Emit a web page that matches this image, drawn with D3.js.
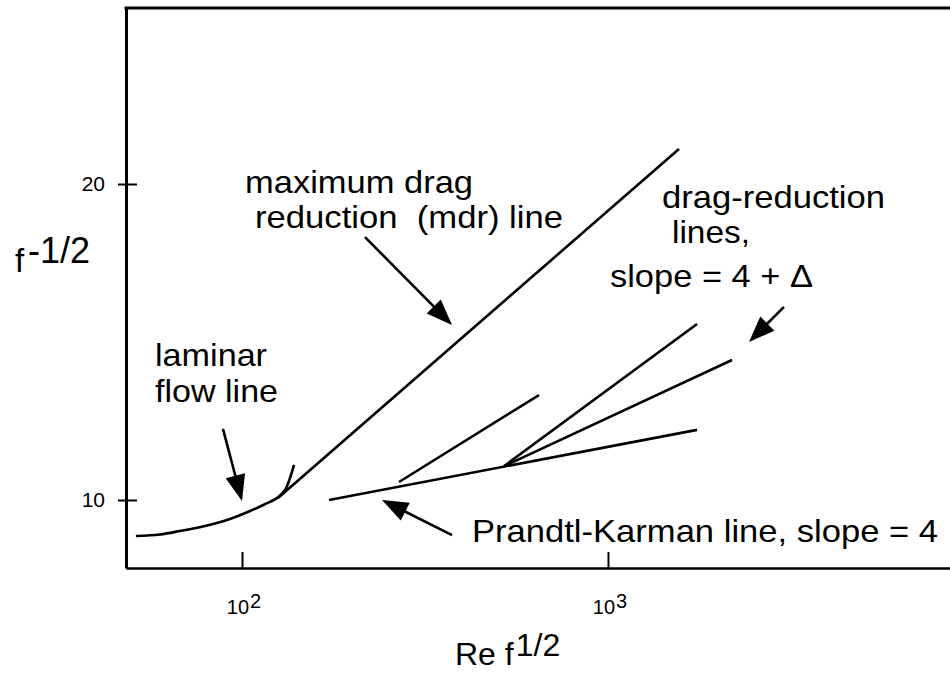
<!DOCTYPE html>
<html>
<head>
<meta charset="utf-8">
<script src="https://cdn.jsdelivr.net/npm/d3@7"></script>
<style>
  html, body { margin: 0; padding: 0; background: #fff; }
  svg { display: block; }
  text { font-family: "Liberation Sans", Arial, Helvetica, sans-serif; fill: #000; white-space: pre; }
</style>
</head>
<body>
<svg id="chart" width="950" height="675"></svg>
<script>
// Abscissa: Re f^(1/2) (log scale); ordinate: f^(-1/2) (linear scale)

// Laminar flow line (continues a little past the mdr junction)
const laminarRe = [51.3, 59.7, 67.7, 79.2, 92.7, 105.2, 115.6, 124.6, 131.1, 135.3, 138.7];
const laminarF  = [8.86, 8.91, 9.02, 9.18, 9.40, 9.65, 9.87, 10.06, 10.32, 10.70, 11.11];

// Maximum drag reduction asymptote
const mdrRe = [125.4, 1563];
const mdrF  = [10.06, 21.11];

// Prandtl-Karman (Newtonian turbulent) line
const pkRe = [172.9, 1751];
const pkF  = [10.0, 12.22];

// Drag-reduction lines, slope = 4 + delta
const drARe = [268.5, 647.8];
const drAF  = [10.57, 13.32];
const drBRe = [519.8, 1751];
const drBF  = [11.07, 15.57];
const drCRe = [519.8, 2182];
const drCF  = [11.07, 14.43];

// Axis ticks
const xTicks = [100, 1000];
const xTickExponents = ["2", "3"];
const yTicks = [10, 20];

// Annotation arrows: tail and tip, in data units
const arrowTailRe = [88.7, 216.8, 374.8, 3026];
const arrowTailF  = [12.25, 18.32, 8.89, 16.11];
const arrowTipRe  = [100, 374.8, 241.3, 2428];
const arrowTipF   = [9.97, 15.54, 10.0, 15.0];

// Annotation text
const labelLines = [
  "maximum drag",
  "reduction  (mdr) line",
  "drag-reduction",
  "lines,",
  "slope = 4 + \u0394",
  "laminar",
  "flow line",
  "Prandtl-Karman line, slope = 4"
];

const frameLeft = 126, frameRight = 950, frameTop = 8, frameBottom = 568;

const svg = d3.select("#chart");

const x = d3.scaleLog().domain([48.2, 8600]).range([frameLeft, frameRight]);
const y = d3.scaleLinear().domain([7.848, 25.57]).range([frameBottom, frameTop]);

// Frame: left and bottom axes plus a top rule (open on the right)
const yAxis = svg.append("g")
  .attr("transform", `translate(${frameLeft},0)`)
  .call(d3.axisLeft(y).tickValues(yTicks).tickSize(8).tickSizeOuter(0).tickPadding(13));
yAxis.select(".domain").attr("stroke", "#000").attr("stroke-width", 3);
yAxis.selectAll(".tick line").attr("x1", 11).attr("x2", -8).attr("stroke", "#000").attr("stroke-width", 2);
yAxis.selectAll(".tick text")
  .style("font-family", '"Liberation Sans", Arial, sans-serif')
  .style("font-size", "21px").attr("fill", "#000");

const xAxis = svg.append("g")
  .attr("transform", `translate(0,${frameBottom})`)
  .call(d3.axisBottom(x).tickValues(xTicks).tickSize(-16).tickSizeOuter(0).tickFormat(""));
xAxis.select(".domain").attr("stroke", "#000").attr("stroke-width", 2.6);
xAxis.selectAll(".tick line").attr("stroke", "#000").attr("stroke-width", 2);

svg.append("line")
  .attr("x1", frameLeft - 1.5).attr("x2", frameRight)
  .attr("y1", frameTop).attr("y2", frameTop)
  .attr("stroke", "#000").attr("stroke-width", 3);

// Power-of-ten tick labels
xTicks.forEach((v, i) => {
  const t = svg.append("text")
    .attr("x", x(v) + 2).attr("y", frameBottom + 46)
    .attr("text-anchor", "middle")
    .style("font-size", "20px");
  t.append("tspan").text("10");
  t.append("tspan").attr("dy", -6).attr("dx", 1).text(xTickExponents[i]);
});

// Axis titles
const xt = svg.append("text").attr("x", 455).attr("y", 665).style("font-size", "32px");
xt.append("tspan").text("Re f");
xt.append("tspan").attr("dx", 2).attr("dy", -9).text("1/2");

const yt = svg.append("text").attr("x", 15).attr("y", 272).style("font-size", "33px");
yt.append("tspan").text("f");
yt.append("tspan").attr("x", 28).attr("dy", -9).style("font-size", "36px").text("-1/2");

// Curves
const line = d3.line().x(d => x(d[0])).y(d => y(d[1]));
const smooth = d3.line().x(d => x(d[0])).y(d => y(d[1])).curve(d3.curveCatmullRom.alpha(0.5));

const plot = svg.append("g")
  .attr("fill", "none").attr("stroke", "#000")
  .attr("stroke-width", 2.6).attr("stroke-linecap", "butt");

plot.append("path").attr("d", smooth(d3.zip(laminarRe, laminarF)));
[[mdrRe, mdrF], [pkRe, pkF], [drARe, drAF], [drBRe, drBF], [drCRe, drCF]]
  .forEach(([re, f]) => plot.append("path").attr("d", line(d3.zip(re, f))));

// Arrows
const headLen = 26, headHalf = 10;
const arrows = svg.append("g");
arrowTailRe.forEach((_, i) => {
  const x0 = x(arrowTailRe[i]), y0 = y(arrowTailF[i]);
  const x1 = x(arrowTipRe[i]),  y1 = y(arrowTipF[i]);
  const len = Math.hypot(x1 - x0, y1 - y0);
  const ux = (x1 - x0) / len, uy = (y1 - y0) / len;
  const bx = x1 - ux * headLen, by = y1 - uy * headLen;
  arrows.append("line")
    .attr("x1", x0).attr("y1", y0).attr("x2", bx + ux * 2).attr("y2", by + uy * 2)
    .attr("stroke", "#000").attr("stroke-width", 2.6);
  arrows.append("path")
    .attr("d", `M${x1},${y1}L${bx - uy * headHalf},${by + ux * headHalf}L${bx + uy * headHalf},${by - ux * headHalf}Z`)
    .attr("fill", "#000");
});

// Annotation text: [x, baseline, width]
const labelPlacement = [
  [245, 193, 228],
  [255, 228, 308],
  [662, 208, 223],
  [672, 243, 78],
  [610, 287, 203],
  [155, 366, 112],
  [155, 402, 123],
  [472, 542, 466]
];
labelLines.forEach((s, i) => {
  const [lx, ly, lw] = labelPlacement[i];
  svg.append("text")
    .attr("x", lx).attr("y", ly)
    .attr("textLength", lw).attr("lengthAdjust", "spacingAndGlyphs")
    .style("font-size", "32px")
    .text(s);
});
</script>
</body>
</html>
